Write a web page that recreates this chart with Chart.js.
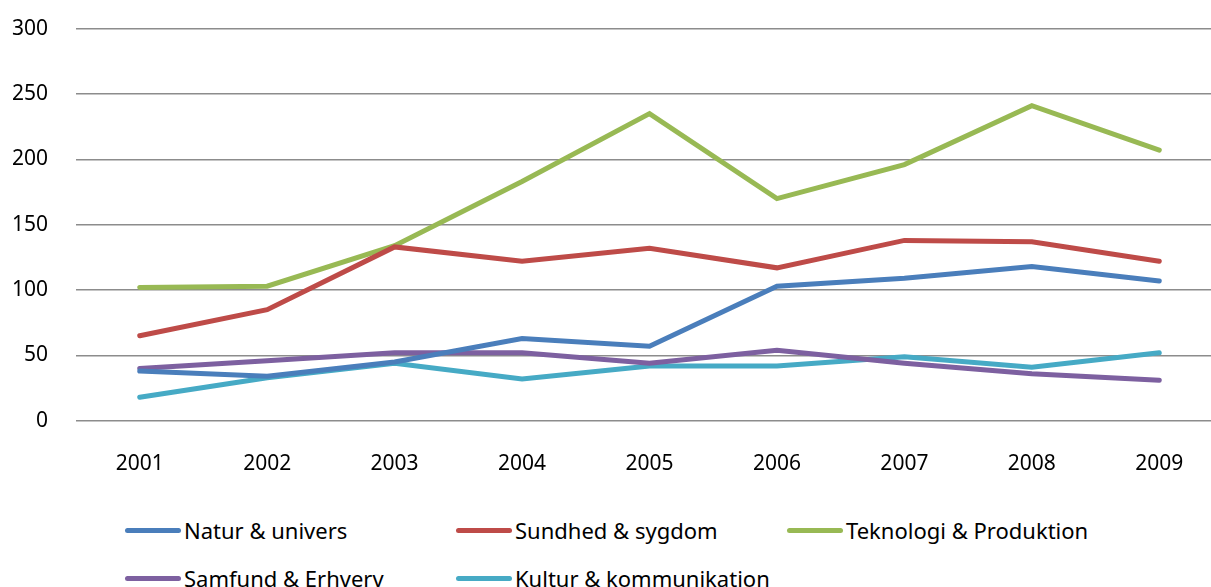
<!DOCTYPE html>
<html>
<head>
<meta charset="utf-8">
<script src="https://cdn.jsdelivr.net/npm/chart.js@4/dist/chart.umd.min.js"></script>
<style>
  html, body { margin: 0; padding: 0; background: #fff; overflow: hidden; }
  #wrap { position: absolute; left: 0; top: -12px; width: 1223px; height: 512px; }
  #legend { position: absolute; left: 125px; top: 515px; font-family: "Noto Sans", sans-serif; font-size: 22px; color: #000; }
  #legend .item { position: absolute; white-space: nowrap; display: flex; align-items: center; }
  #legend .swatch { display: inline-block; width: 56px; height: 5px; border-radius: 3px; margin-right: 3px; }
</style>
</head>
<body>
<div id="wrap"><canvas id="chart"></canvas></div>
<div id="legend"></div>
<script>
// years on the x axis
const years = ['2001', '2002', '2003', '2004', '2005', '2006', '2007', '2008', '2009'];

// series
const natur = [38, 34, 45, 63, 57, 103, 109, 118, 107];
const sundhed = [65, 85, 133, 122, 132, 117, 138, 137, 122];
const teknologi = [102, 103, 134, 183, 235, 170, 196, 241, 207];
const samfund = [40, 46, 52, 52, 44, 54, 44, 36, 31];
const kultur = [18, 33, 44, 32, 42, 42, 49, 41, 52];

const names = ['Natur & univers', 'Sundhed & sygdom', 'Teknologi & Produktion', 'Samfund & Erhverv', 'Kultur & kommunikation'];
const colors = ['#4a7ebb', '#be4b48', '#98b954', '#7d60a0', '#46aac5'];
const series = [natur, sundhed, teknologi, samfund, kultur];

const ctx = document.getElementById('chart').getContext('2d');
const chart = new Chart(ctx, {
  type: 'line',
  data: {
    labels: years,
    datasets: series.map((s, i) => ({
      label: names[i],
      data: s,
      borderColor: colors[i],
      backgroundColor: colors[i],
      borderWidth: 5,
      pointRadius: 0,
      fill: false,
      tension: 0,
      borderCapStyle: 'round'
    }))
  },
  options: {
    responsive: true,
    maintainAspectRatio: false,
    animation: false,
    layout: { padding: { top: 15, right: 0, left: 0, bottom: 0 } },
    plugins: { legend: { display: false }, tooltip: { enabled: false } },
    scales: {
      x: {
        offset: true,
        grid: { display: false },
        border: { display: false },
        ticks: { color: '#000', font: { family: 'Noto Sans', size: 21 }, padding: 23 }
      },
      y: {
        min: 0,
        max: 300,
        afterFit: axis => { axis.width = 76; },
        grid: { color: '#8c8c8c', lineWidth: 1.5, drawTicks: false },
        border: { display: false },
        ticks: { stepSize: 50, color: '#000', font: { family: 'Noto Sans', size: 21 }, padding: 28 }
      }
    }
  }
});

// legend built from the datasets, in fixed columns
const legend = document.getElementById('legend');
chart.data.datasets.forEach((ds, i) => {
  const el = document.createElement('div');
  el.className = 'item';
  el.style.left = (i % 3) * 331 + 'px';
  el.style.top = Math.floor(i / 3) * 48 + 'px';
  el.innerHTML = '<span class="swatch" style="background:' + ds.borderColor + '"></span>' + ds.label;
  legend.appendChild(el);
});
</script>
</body>
</html>
